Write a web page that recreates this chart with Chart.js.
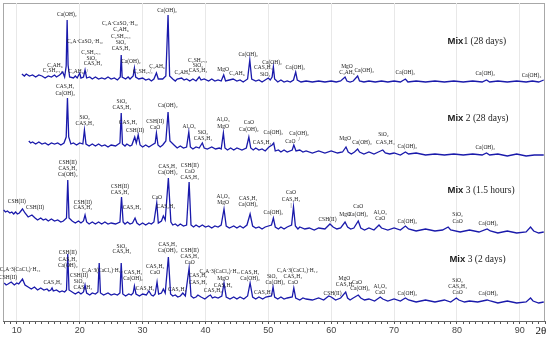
<!DOCTYPE html>
<html>
<head>
<meta charset="utf-8">
<script src="https://cdn.jsdelivr.net/npm/chart.js@4.4.1/dist/chart.umd.min.js"></script>
<style>
  html, body { margin: 0; padding: 0; background: #fff; }
  #wrap { width: 550px; height: 337px; }
</style>
</head>
<body>
<div id="wrap"><canvas id="xrd" width="550" height="337"></canvas></div>
<script>
// 2θ (degrees) and intensity (a.u., traces stacked)
const mix1 = [
  [10.8,247],[11.2,245],[11.5,247],[12.0,245],[12.5,246],[13.0,244],[13.5,246],[14.0,245],[14.5,243],[15.0,245],[15.5,244],[16.0,246],[16.3,244],[16.8,246],[17.3,249],[17.6,244],
  [17.85,255],[18.0,301],[18.15,256],[18.4,244],[19.0,243],[19.3,245],[19.6,243],[20.0,248],[20.2,243],[20.6,244],[20.85,251],
  [21.1,243],[21.6,244],[22,242],[22.5,244],[23,242],[23.5,243],[24,242],[24.5,244],[25,242],[25.5,243],[26,241],[26.45,244],[26.6,266],[26.75,244],[27.3,242],[27.7,244],
  [28.0,242],[28.5,245],[28.7,253],[28.9,244],[29.4,242],[30.0,243],[30.5,241],[31,242],[31.4,240],[31.8,242],[32.2,248],[32.5,242],
  [33.2,242],[33.7,245],[34.05,306],[34.3,245],[34.8,242],[35.2,240],[35.5,242],[36.2,243],[36.6,241],[37.0,242],[37.5,240],[38.0,242],[38.5,240],
  [39.0,244],[39.3,241],[39.8,242],[40.5,240],[41.0,242],[41.5,240],[42.0,241],[42.5,240],[42.9,246],[43.2,240],[43.8,241],[44.4,242],[45,240],[45.5,241],[46,239],
  [46.7,242],[47.05,261],[47.35,242],[48,240],[48.5,241],[49,239],[49.5,241],[50.0,243],[50.3,241],[50.6,244],[50.8,254],[51.0,242],
  [51.5,239],[52,241],[52.5,239],[53,240],[53.5,239],[54.0,241],[54.35,249],[54.6,241],[55.2,239],[56,240],[57,239],[58,240],[59,239],[60,240],[60.8,239],[61.5,240],[62.2,244],
  [62.5,240],[63.0,239],[63.5,240],[64.2,245],[64.5,240],[65.2,239],[66,240],[67,239],[68,240],[69,239],[70,240],[71.0,239],[71.8,242],[72.2,239],[73.5,240],[75,239],
  [76.5,240],[78,239],[79.5,240],[81,239],[82.5,240],[84.0,239],[84.7,241],[85.2,239],[86.5,240],[88,239],[89.5,240],[91,239],[92,240],[93.0,239],[93.8,241]
];
const mix2 = [
  [11.9,180],[12.2,178],[12.5,179],[13.0,177],[13.5,179],[14.0,177],[14.5,178],[15.0,176],[15.5,178],[16.0,177],[16.5,178],[17.0,176],[17.5,178],[17.85,184],[18.05,223],[18.25,184],
  [18.6,177],[19.0,178],[19.5,176],[20.0,178],[20.5,177],[20.75,191],[21.0,177],[21.5,175],[22,177],[22.5,175],[23,177],[23.5,175],[24,176],[24.5,174],[25,176],[25.7,175],[26.4,178],
  [26.6,208],[26.8,177],[27.2,175],[27.5,177],[28.0,175],[28.3,176],[28.75,184],[29.0,178],[29.3,186],[29.6,176],[30.0,174],[30.5,176],[31.0,174],[31.5,176],
  [32.0,178],[32.2,188],[32.45,176],[32.8,174],[33.2,176],[33.7,180],[34.05,209],[34.35,180],[35,176],[35.5,173],[36,175],[36.5,173],[37.0,174],
  [37.35,189],[37.6,174],[38.0,172],[38.5,174],[39.0,173],[39.3,176],[39.5,178],[39.8,173],[40.3,172],[41,174],[41.6,172],[42.2,173],[42.5,172],[42.85,188],[43.1,173],
  [43.5,171],[44,173],[44.5,171],[45,173],[45.8,171],[46.5,173],[46.9,184],[47.2,173],[47.6,171],[48,173],[48.5,171],[49,172],[49.5,170],[50.1,174],[50.6,176],[50.85,178],
  [51.1,170],[51.6,171],[52,169],[52.5,171],[53,169],[53.8,171],[54.05,176],[54.4,170],[55,171],[55.5,169],[56,170],[57,168],[58,170],[59,168],[60,170],
  [61.0,168],[61.8,169],[62.35,174],[62.7,169],[63.2,167],[63.7,169],[64.2,172],[64.5,169],[65.2,167],[66,169],[66.8,167],[67.5,169],[68.2,171],[68.6,168],
  [69.3,167],[70,168],[71.0,166],[71.8,169],[72.3,167],[73.5,168],[75,166],[76.5,167],[78,166],[79.5,167],[81,166],[82.5,167],[84.0,166],[84.7,168],[85.2,166],
  [86.5,167],[88,165],[89.5,167],[91,165],[92.3,166],[93.8,166]
];
const mix3h = [
  [7.9,111],[8.2,109],[8.5,110],[8.9,108],[9.2,109],[9.5,107],[9.8,109],[10.1,107],[10.4,108],[10.9,112],[11.3,108],[11.8,104],[12.1,105],[12.4,106],[12.9,103],
  [13.3,101],[13.8,103],[14.2,101],[14.6,102],[15.0,100],[15.5,102],[16.0,100],[16.5,101],[17.0,99],[17.4,100],[17.9,103],[18.1,141],[18.3,103],[18.8,100],[19.3,98],[19.8,100],
  [20.2,98],[20.6,100],[20.85,106],[21.1,99],[21.5,97],[22,99],[22.5,97],[23,99],[23.5,97],[24,99],[24.5,97],[25,98],[25.7,97],[26.4,99],[26.65,124],[26.9,99],
  [27.2,97],[27.6,99],[28.0,97],[28.4,98],[28.8,103],[29.1,98],[29.5,96],[30,98],[30.5,96],[31,98],[31.4,97],[31.8,99],[32.25,118],[32.5,98],[33.0,100],
  [33.3,105],[33.6,101],[34.1,143],[34.5,99],[34.8,96],[35.2,97],[35.6,95],[36.0,97],[36.5,95],[37.0,96],[37.4,139],[37.7,96],
  [38.1,94],[38.5,96],[39.0,94],[39.5,96],[40.0,94],[40.5,95],[41.0,93],[41.5,95],[42.0,94],[42.5,96],[42.95,112],[43.3,95],[43.8,93],[44.5,95],[45.0,93],[45.5,95],[46.0,93],[46.6,96],
  [47.1,107],[47.5,95],[48.0,93],[48.5,94],[49.0,92],[49.5,94],[50.5,96],[50.8,103],[51.1,94],[51.6,92],[52,94],[52.5,92],[53,94],[53.7,96],
  [54.0,114],[54.3,95],[54.7,92],[55,94],[55.8,92],[56.5,93],[57.3,91],[58,93],[59.0,92],[59.8,97],[60.3,94],[60.9,92],[61.5,93],[62.2,99],[62.6,94],
  [63.1,92],[63.6,93],[64.3,100],[64.7,93],[65.3,91],[66,93],[66.8,91],[67.6,96],[68,93],[69,91],[70,93],[71.0,91],[71.8,95],[72.3,92],[73.5,90],[75,92],
  [76.5,90],[77.7,91],[78.6,94],[79,91],[80.5,89],[82,91],[83.5,89],[84.8,92],[85.3,90],[86.5,88],[88,90],[89.5,88],[91.0,89],[91.7,94],[92.2,90],[93.0,88],[93.8,89]
];
const mix2d = [
  [8.0,38],[8.3,36],[8.6,37],[9.1,39],[9.6,36],[10.0,38],[10.3,37],[10.9,42],[11.3,36],[11.8,34],[12.3,32],[12.8,34],[13.3,31],[13.8,33],
  [14.3,31],[14.8,32],[15.1,30],[15.4,31],[15.6,33],[15.8,30],[16.3,31],[16.8,29],[17.2,30],[17.6,29],[17.9,31],[18.1,67],[18.3,31],[18.8,29],
  [19.3,27],[19.8,29],[20.2,27],[20.6,29],[20.85,36],[21.1,28],[21.6,26],[22.0,28],[22.5,27],[22.9,29],[23.1,58],[23.3,28],[23.8,26],[24.5,28],[25.0,26],[25.5,27],
  [26.0,26],[26.4,28],[26.6,58],[26.85,27],[27.3,25],[27.8,27],[28.2,26],[28.5,28],[28.7,35],[28.95,27],[29.5,25],[30.0,27],[30.6,26],[31.0,30],
  [31.4,26],[31.7,25],[32.0,27],[32.3,39],[32.55,27],[33.0,28],[33.3,32],[33.6,28],[34.1,64],[34.45,27],[34.8,25],[35.2,26],
  [35.6,24],[36.0,25],[36.4,28],[36.8,25],[37.4,53],[37.7,25],[38.1,23],[38.5,24],[38.8,26],[39.3,24],[39.9,22],[40.5,25],[40.8,26],
  [41.1,23],[41.5,24],[42.0,23],[42.6,25],[42.95,38],[43.3,24],[43.9,22],[44.5,24],[45.0,22],[45.5,24],[46.1,22],[46.7,25],[47.1,38],[47.5,24],[48.0,22],[48.5,24],
  [49.1,22],[49.6,24],[50.5,25],[50.75,34],[51.0,24],[51.5,22],[52,24],[52.5,22],[53,23],[53.8,24],[54.05,33],[54.35,23],[55.0,21],[55.5,23],[56,22],
  [57,21],[58,23],[58.8,21],[59.6,25],[60.0,24],[60.7,21],[61.5,23],[62.3,29],[62.6,23],[63.0,21],[63.5,23],[64.3,26],[64.7,23],[65.3,21],[66,22],
  [66.9,20],[67.8,24],[68.2,22],[69,20],[70,22],[71.0,20],[71.8,23],[72.3,21],[73.5,19],[75,21],[76.5,19],[78,21],[79.0,19],[79.9,23],[80.3,21],[81.2,19],[82,20],
  [83.3,19],[84.8,21],[85.3,20],[86.5,18],[88,20],[89.5,18],[91.0,19],[91.7,23],[92.1,20],[93.0,18],[93.8,19]
];

const xTicks = [10, 20, 30, 40, 50, 60, 70, 80, 90];

// phase labels: [text, 2θ, intensity]
const phaseLabels = [
  // Mix 1
  ['C₃AH₆',16.05,255],['C₂SH₂.₁₁',15.7,250],['Ca(OH)₂',17.96,306],['C₃A·CaSO₄·H₁₂',20.83,279],['C₃AH₆',19.4,249],['/',21.2,249],
  ['C₂SH₂.₁₁',21.8,268],['SiO₂',21.9,262],['CAS₂H₄',22.1,257],
  ['C₃A·CaSO₄·H₁₂',26.4,297],['C₃AH₆',26.56,291],['C₂SH₂.₁₁',26.56,284],['SiO₂',26.56,278],['CAS₂H₄',26.56,272],
  ['Ca(OH)₂',28.15,259],['C₂SH₂.₁₁',30.06,249],['/',31.3,250],['C₃AH₆',32.3,254],['Ca(OH)₂',33.9,310],['C₃AH₆',36.3,248],
  ['C₂SH₂.₁₁',38.8,260],['SiO₂',38.8,255],['CAS₂H₄',38.8,250],['MgO',42.8,251],['C₃AH₆',45.0,247],['Ca(OH)₂',46.8,266],
  ['CAS₂H₄',49.2,253],['Ca(OH)₂',50.6,258],['SiO₂',49.5,246],['Ca(OH)₂',54.3,253],['MgO',62.5,254],['C₃AH₆',62.5,248],
  ['Ca(OH)₂',65.25,250],['Ca(OH)₂',71.8,248],['Ca(OH)₂',84.5,247],['Ca(OH)₂',91.85,245],
  // Mix 2
  ['CAS₂H₄',17.7,234],['Ca(OH)₂',17.7,227],['SiO₂',20.8,203],['CAS₂H₄',20.8,197],['SiO₂',26.7,219],['CAS₂H₄',26.7,213],
  ['CAS₂H₄',27.7,198],['CSH(II)',28.8,190],['CSH(II)',32.0,199],['CaO',32.0,193],['Ca(OH)₂',34.0,215],['Al₂O₃',37.4,194],
  ['SiO₂',39.6,188],['CAS₂H₄',39.6,182],['Al₂O₃',42.8,201],['MgO',42.8,194],['CaO',46.9,198],['Ca(OH)₂',46.9,191],
  ['CAS₂H₄',49.0,178],['Ca(OH)₂',50.8,188],['CaO',53.5,179],['Ca(OH)₂',54.9,187],['/',54.9,181],['MgO',62.2,182],
  ['Ca(OH)₂',64.9,178],['SiO₂',68.3,186],['CAS₂H₄',68.6,178],['Ca(OH)₂',72.1,174],['Ca(OH)₂',84.5,173],
  // Mix 3 (1.5 hours)
  ['CSH(II)',10.0,119],['CSH(II)',12.9,113],['CSH(II)',18.1,158],['CAS₂H₄',18.1,152],['Ca(OH)₂',18.1,146],
  ['CSH(II)',20.5,118],['CAS₂H₄',20.5,113],['CSH(II)',26.4,134],['CAS₂H₄',26.4,128],['CAS₂H₄',28.3,113],
  ['CaO',32.3,123],['CAS₂H₄',33.7,114],['CAS₂H₄',34.0,154],['Ca(OH)₂',34.0,148],['CSH(II)',37.5,155],['CaO',37.5,149],
  ['CAS₂H₄',37.5,143],['Al₂O₃',42.8,124],['MgO',42.8,118],['CAS₂H₄',46.8,122],['Ca(OH)₂',46.8,116],['Ca(OH)₂',50.8,108],
  ['CaO',53.6,128],['CAS₂H₄',53.6,121],['|',53.6,115],['CSH(II)',59.4,101],['MgO',62.2,106],['CaO',64.3,114],
  ['Ca(OH)₂',64.3,106],['Al₂O₃',67.8,108],['CaO',67.8,102],['Ca(OH)₂',72.1,99],['SiO₂',80.1,106],['CaO',80.1,99],
  ['Ca(OH)₂',85.0,97],
  // Mix 3 (2 days)
  ['C₃A·3(CaCl₂)·H₁₂',10.5,51],['CSH(II)',8.6,43],['CAS₄H₂',15.7,38],['CSH(II)',18.1,68],['CAS₂H₄',18.1,61],['Ca(OH)₂',18.1,55],
  ['CSH(II)',19.9,45],['SiO₂',19.9,39],['CAS₂H₄',20.5,33],['C₃A·3(CaCl₂)·H₁₂',23.6,50],['SiO₂',26.7,74],['CAS₂H₄',26.7,69],
  ['CAS₂H₄',28.5,48],['Ca(OH)₂',28.5,42],['CAS₄H₂',30.4,32],['CAS₄H₂',32.0,54],['CaO',32.0,48],['CAS₂H₄',34.0,76],
  ['Ca(OH)₂',34.0,70],['CSH(II)',37.5,70],['CAS₂H₄',37.5,64],['CaO',37.5,58],['CAS₂H₄',35.5,31],['CAS₄H₂',38.8,45],
  ['CAS₂H₄',38.8,38],['C₃A·3(CaCl₂)·H₁₂',42.3,49],['MgO',42.8,42],['CAS₄H₂',42.8,35],['CAS₄H₂',41.2,30],['CAS₂H₄',47.1,48],
  ['Ca(OH)₂',47.1,42],['CAS₂H₄',49.2,28],['SiO₂',50.6,44],['Ca(OH)₂',51.1,38],['C₃A·3(CaCl₂)·H₁₂',54.6,50],['CAS₂H₄',53.9,44],
  ['CaO',53.9,38],['MgO',62.1,42],['CAS₄H₂',62.2,36],['CaO',64.1,38],['Ca(OH)₂',64.6,32],['CSH(II)',60.2,27],
  ['Al₂O₃',67.8,34],['CaO',67.8,28],['Ca(OH)₂',72.1,27],['SiO₂',80.1,40],['CAS₂H₄',80.1,34],['CaO',80.1,28],['Ca(OH)₂',85.0,27]
];

// sample titles: [bold part, rest, 2θ of left edge, intensity]
const sampleLabels = [
  ['Mix', '1 (28 days)', 78.5, 280],
  ['Mix', ' 2 (28 days)', 78.5, 203],
  ['Mix', ' 3 (1.5 hours)', 78.5, 131],
  ['Mix', ' 3 (2 days)', 78.8, 62]
];

const toXY = arr => arr.map(p => ({ x: p[0], y: p[1] }));

const annotate = {
  id: 'annotate',
  beforeDraw(chart) {
    const { ctx, chartArea: a } = chart;
    ctx.save();
    ctx.strokeStyle = '#a8a8a8';
    ctx.lineWidth = 1;
    ctx.strokeRect(a.left + 0.5, a.top + 0.5, a.right - a.left - 1, a.bottom - a.top);
    ctx.restore();
  },
  afterDatasetsDraw(chart) {
    const { ctx, scales: { x, y }, chartArea: a } = chart;
    ctx.save();
    ctx.fillStyle = '#222';
    ctx.textAlign = 'center';
    ctx.textBaseline = 'middle';
    ctx.font = '5.5px "Liberation Serif", serif';
    phaseLabels.forEach(l => ctx.fillText(l[0], x.getPixelForValue(l[1]), y.getPixelForValue(l[2])));

    ctx.textAlign = 'left';
    sampleLabels.forEach(s => {
      let px = x.getPixelForValue(s[2]);
      const py = y.getPixelForValue(s[3]);
      ctx.font = 'bold 9.5px "Liberation Sans", Arial, sans-serif';
      ctx.fillText(s[0], px, py);
      px += ctx.measureText(s[0]).width;
      ctx.font = '9.5px "Liberation Serif", serif';
      ctx.fillText(s[1], px, py);
    });

    ctx.font = '11px "Liberation Serif", serif';
    ctx.textAlign = 'center';
    ctx.fillStyle = '#111';
    ctx.fillText('2θ', a.right - 4, a.bottom + 10);
    ctx.restore();
  }
};

const traceStyle = { borderColor: '#1a1aab', borderWidth: 1.3, pointRadius: 0, tension: 0, fill: false };

new Chart(document.getElementById('xrd'), {
  type: 'line',
  data: {
    datasets: [
      { label: 'Mix 1 (28 days)', data: toXY(mix1), ...traceStyle },
      { label: 'Mix 2 (28 days)', data: toXY(mix2), ...traceStyle },
      { label: 'Mix 3 (1.5 hours)', data: toXY(mix3h), ...traceStyle },
      { label: 'Mix 3 (2 days)', data: toXY(mix2d), ...traceStyle }
    ]
  },
  options: {
    responsive: false,
    animation: false,
    layout: { padding: { left: 3, right: 5, top: 3, bottom: 0 } },
    plugins: { legend: { display: false }, tooltip: { enabled: false } },
    scales: {
      x: {
        type: 'linear',
        min: 7.8,
        max: 94,
        afterFit: s => { s.height = 16; },
        border: { color: '#666' },
        grid: {
          color: c => (c.tick && xTicks.includes(c.tick.value)) ? '#e8e8e8' : 'rgba(0,0,0,0)',
          tickColor: '#555',
          tickLength: 3
        },
        ticks: {
          stepSize: 1,
          includeBounds: false,
          autoSkip: false,
          maxRotation: 0,
          padding: 1,
          color: '#444',
          font: { size: 9, family: '"Liberation Sans", Arial, sans-serif' },
          callback: v => xTicks.includes(v) ? String(v) : ''
        }
      },
      y: { display: false, min: 0, max: 318 }
    }
  },
  plugins: [annotate]
});
</script>
</body>
</html>
